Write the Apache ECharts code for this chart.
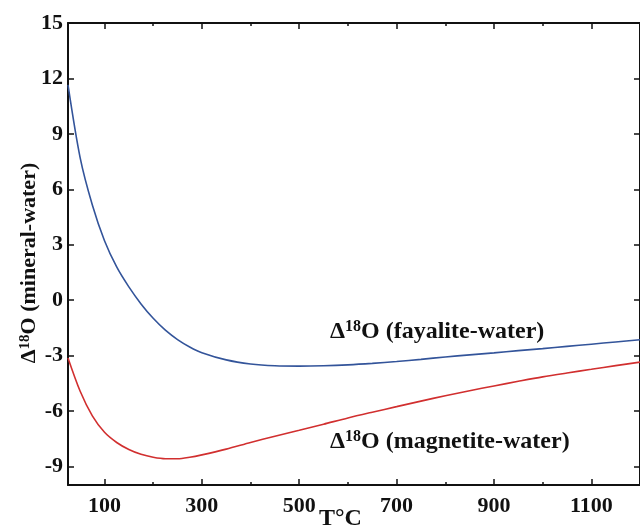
<!DOCTYPE html>
<html>
<head>
<meta charset="utf-8">
<script src="https://cdn.jsdelivr.net/npm/echarts@6/dist/echarts.min.js"></script>
<style>
  html, body { margin: 0; padding: 0; background: #ffffff; }
  #chart { width: 640px; height: 526px; }
</style>
</head>
<body>
<div id="chart"></div>
<script>
// Temperature (°C) grid shared by both curves
const temps = [25, 50, 75, 100, 125, 150, 175, 200, 225, 250, 275, 300,
  350, 400, 450, 500, 550, 600, 650, 700, 750, 800, 850, 900, 950, 1000, 1050, 1100, 1150, 1200];

// Δ18O (fayalite-water) at each temperature
const dFayalite = [11.65, 7.7, 5.15, 3.22, 1.8, 0.72, -0.2, -0.98, -1.62, -2.13, -2.53, -2.84,
  -3.23, -3.45, -3.55, -3.57, -3.55, -3.5, -3.42, -3.32, -3.2, -3.07, -2.96, -2.85, -2.73, -2.62, -2.5, -2.38, -2.26, -2.14];

// Δ18O (magnetite-water) at each temperature
const dMagnetite = [-3.13, -4.93, -6.26, -7.15, -7.7, -8.08, -8.34, -8.5, -8.58, -8.58, -8.5, -8.37,
  -8.06, -7.7, -7.36, -7.04, -6.71, -6.37, -6.06, -5.76, -5.46, -5.17, -4.9, -4.64, -4.39, -4.15, -3.94, -3.74, -3.54, -3.35];

// Axis ticks
const xMajor = [100, 300, 500, 700, 900, 1100];
const xMinor = [200, 400, 600, 800, 1000, 1200];
const yTicks = [-9, -6, -3, 0, 3, 6, 9, 12, 15];

const serif = '"Liberation Serif", "Times New Roman", serif';
const black = '#111111';

const pairs = (xs, ys) => xs.map((x, i) => [x, ys[i]]);

const chart = echarts.init(document.getElementById('chart'), null, { renderer: 'canvas' });

const baseX = {
  type: 'value', min: 25, max: 1200,
  splitLine: { show: false }
};

// one visible frame axis plus a bare axis carrying the short minor ticks
function xPair(position, withLabels) {
  return [
    Object.assign({}, baseX, {
      position: position,
      axisLine: { show: true, onZero: false, lineStyle: { color: black, width: 2 } },
      axisTick: { show: true, inside: true, length: 6, customValues: xMajor, lineStyle: { color: black, width: 1.5 } },
      axisLabel: {
        show: withLabels, customValues: xMajor, margin: 10,
        formatter: v => String(v),
        fontFamily: serif, fontWeight: 'bold', fontSize: 22, color: black
      }
    }),
    Object.assign({}, baseX, {
      position: position,
      axisLine: { show: false, onZero: false },
      axisTick: { show: true, inside: true, length: 3, customValues: xMinor, lineStyle: { color: black, width: 1.5 } },
      axisLabel: { show: false }
    })
  ];
}

// Δ¹⁸O style text: main run plus a raised "18"
const deltaRich = (size, supSize) => ({
  d: { fontFamily: serif, fontWeight: 'bold', fontSize: size, fill: black },
  s: { fontFamily: serif, fontWeight: 'bold', fontSize: supSize, fill: black, verticalAlign: 'bottom', padding: [0, 0, Math.round(size * 0.36), 0] }
});

const curveLabel = (name, top) => ({
  type: 'text', left: 330, top: top,
  style: { text: '{d|Δ}{s|18}{d|O (' + name + ')}', rich: deltaRich(24, 16) }
});

const frameY = (position, withLabels) => ({
  type: 'value', min: -10, max: 15, position: position,
  splitLine: { show: false },
  axisLine: { show: true, onZero: false, lineStyle: { color: black, width: 2 } },
  axisTick: { show: true, inside: true, length: 6, customValues: yTicks, lineStyle: { color: black, width: 1.5 } },
  axisLabel: {
    show: withLabels, customValues: yTicks, margin: 5,
    fontFamily: serif, fontWeight: 'bold', fontSize: 22, color: black
  }
});

const option = {
  backgroundColor: '#ffffff',
  animation: false,
  grid: { left: 68, right: -3, top: 23, bottom: 41 },
  xAxis: [].concat(xPair('bottom', true), xPair('top', false)),
  yAxis: [frameY('left', true), frameY('right', false)],
  graphic: [
    curveLabel('fayalite-water', 319),
    curveLabel('magnetite-water', 429),
    {
      type: 'text', left: 319, top: 507,
      style: { text: 'T°C', fontFamily: serif, fontWeight: 'bold', fontSize: 24, fill: black }
    },
    {
      type: 'text', x: 29, y: 263, rotation: Math.PI / 2,
      style: {
        text: '{d|Δ}{s|18}{d|O (mineral-water)}',
        align: 'center', verticalAlign: 'middle',
        rich: deltaRich(22, 15)
      }
    }
  ],
  series: [
    {
      name: 'fayalite-water', type: 'line', xAxisIndex: 0, yAxisIndex: 0,
      data: pairs(temps, dFayalite),
      smooth: 0.3, showSymbol: false, symbol: 'none',
      lineStyle: { color: '#33549a', width: 1.6 }
    },
    {
      name: 'magnetite-water', type: 'line', xAxisIndex: 0, yAxisIndex: 0,
      data: pairs(temps, dMagnetite),
      smooth: 0.3, showSymbol: false, symbol: 'none',
      lineStyle: { color: '#d12f2f', width: 1.6 }
    }
  ]
};

chart.setOption(option);
</script>
</body>
</html>
